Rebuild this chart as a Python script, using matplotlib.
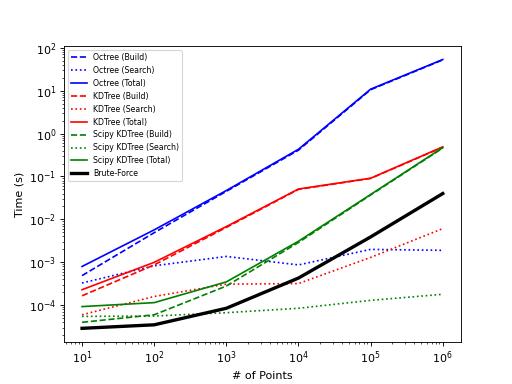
import matplotlib
matplotlib.use("Agg")
import matplotlib.pyplot as plt

n_points = [10, 100, 1000, 10000, 100000, 1000000]

octree_build = [4.9e-4, 4.9e-3, 0.045, 0.41, 10.5, 52.0]
octree_search = [3.3e-4, 8.3e-4, 1.37e-3, 8.7e-4, 2.0e-3, 1.9e-3]
octree_total = [8.0e-4, 5.7e-3, 0.047, 0.43, 10.8, 53.0]

kdtree_build = [1.66e-4, 8.7e-4, 6.5e-3, 0.050, 0.090, 0.48]
kdtree_search = [6.0e-5, 1.6e-4, 3.1e-4, 3.2e-4, 1.3e-3, 6.1e-3]
kdtree_total = [2.3e-4, 1.0e-3, 6.8e-3, 0.051, 0.091, 0.49]

scipy_build = [4.0e-5, 6.0e-5, 2.8e-4, 2.9e-3, 0.037, 0.46]
scipy_search = [5.5e-5, 5.6e-5, 6.7e-5, 8.5e-5, 1.3e-4, 1.8e-4]
scipy_total = [9.3e-5, 1.15e-4, 3.5e-4, 3.1e-3, 0.038, 0.47]

brute_force = [2.9e-5, 3.5e-5, 8.5e-5, 4.3e-4, 3.9e-3, 0.040]

fig, ax = plt.subplots(figsize=(6.4, 4.8), dpi=80)
ax.loglog(n_points, octree_build, 'b--', label='Octree (Build)')
ax.loglog(n_points, octree_search, 'b:', label='Octree (Search)')
ax.loglog(n_points, octree_total, 'b-', label='Octree (Total)')
ax.loglog(n_points, kdtree_build, 'r--', label='KDTree (Build)')
ax.loglog(n_points, kdtree_search, 'r:', label='KDTree (Search)')
ax.loglog(n_points, kdtree_total, 'r-', label='KDTree (Total)')
ax.loglog(n_points, scipy_build, 'g--', label='Scipy KDTree (Build)')
ax.loglog(n_points, scipy_search, 'g:', label='Scipy KDTree (Search)')
ax.loglog(n_points, scipy_total, 'g-', label='Scipy KDTree (Total)')
ax.loglog(n_points, brute_force, 'k-', linewidth=3, label='Brute-Force')
ax.set_xlabel('# of Points')
ax.set_ylabel('Time (s)')
ax.legend(fontsize=7, loc='upper left')
fig.savefig('out.png', dpi=80)
